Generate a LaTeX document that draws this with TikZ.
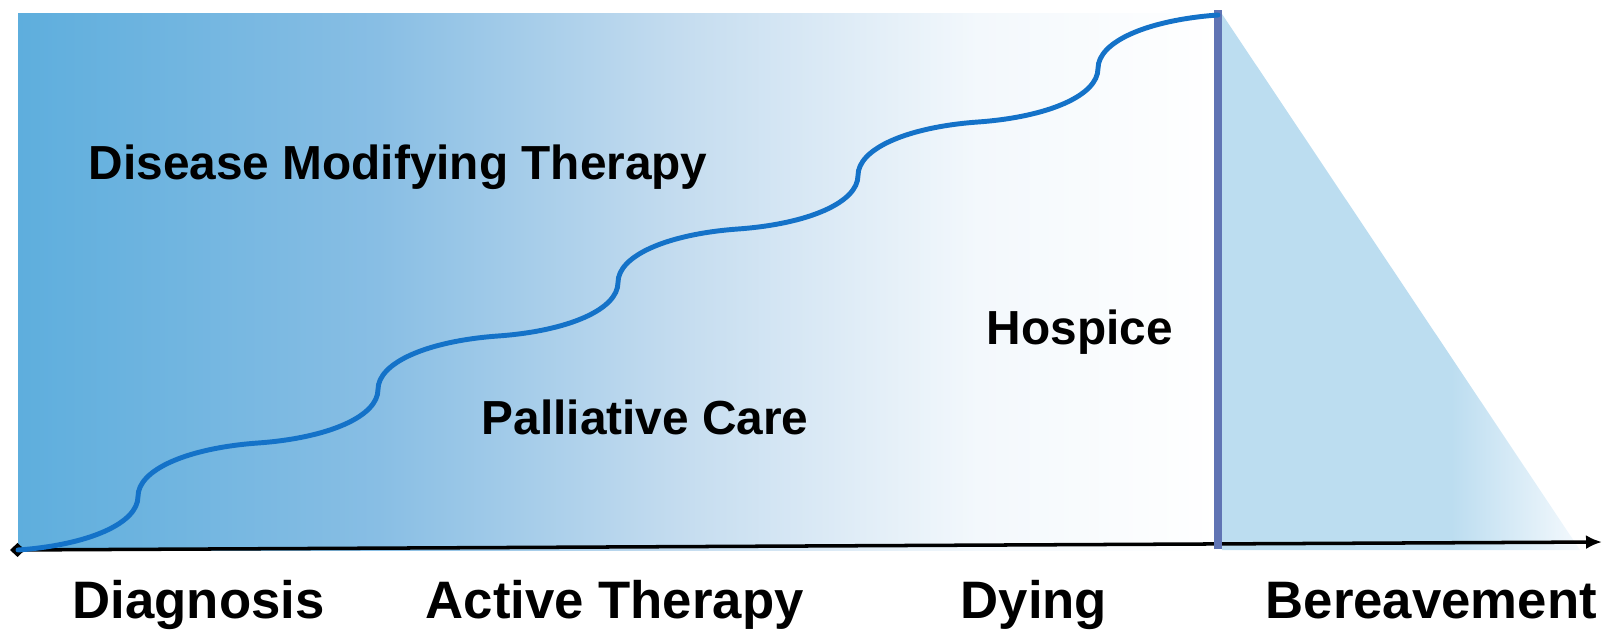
\documentclass[tikz,border=0pt]{standalone}
\usepackage{fontspec}
\setmainfont{Liberation Sans}
\usetikzlibrary{arrows.meta}

\definecolor{dmtblue}{RGB}{94,174,221}
\definecolor{dmtmid}{RGB}{136,190,228}
\definecolor{dmtpale}{RGB}{196,220,239}
\definecolor{dmtmist}{RGB}{243,248,252}
\definecolor{griefblue}{RGB}{188,221,240}
\definecolor{griefmist}{RGB}{244,249,253}
\definecolor{barblue}{RGB}{96,116,180}
\definecolor{curveblue}{RGB}{20,114,200}

% shadings: the path box maps onto 25bp..75bp
\pgfdeclarehorizontalshading{dmtfade}{100bp}{color(0bp)=(dmtblue); color(25bp)=(dmtblue); color(40bp)=(dmtmid); color(52.5bp)=(dmtpale); color(65bp)=(dmtmist); color(75bp)=(white); color(100bp)=(white)}
\pgfdeclarehorizontalshading{grieffade}{100bp}{color(0bp)=(griefblue); color(25bp)=(griefblue); color(57bp)=(griefblue); color(75bp)=(griefmist); color(100bp)=(griefmist)}

\tikzset{
  phase/.style={font=\fontsize{15}{18}\selectfont\bfseries, inner sep=0pt, anchor=base west},
  care/.style={font=\fontsize{13.6}{16}\selectfont\bfseries, inner sep=0pt, anchor=base west},
  riseline/.style={draw=curveblue, line width=1.4pt, line cap=round},
}

\begin{document}
\begin{tikzpicture}[x=0.1mm,y=0.1mm]
			\useasboundingbox (0,0) rectangle (1615,637);
			% background areas
			\shade[shading=dmtfade] (18,87) rectangle (1218,623);
			\shade[shading=grieffade] (1222,623) -- (1580,87) -- (1222,87) -- cycle;
			% time axis
			\coordinate (start) at (10,87);
			\coordinate (tip) at (1602,95);
			\draw[line width=1pt, {Diamond[length=1.5mm,width=1.4mm]}-{Latex[length=1.6mm,width=1.4mm]}] (start) -- (tip);
			% death
			\coordinate (deathlow) at (1218,88);
			\coordinate (deathtop) at (1218,627);
			\draw[draw=barblue, line width=0.85mm] (deathlow) -- (deathtop);
			% rising palliative care
			\draw[riseline] (18,87)
				.. controls +(70,5) and +(0,-27) .. ++(120,53.5) .. controls +(0,27) and +(-70,-5) .. ++(120,53.5)
				.. controls +(70,5) and +(0,-27) .. ++(120,53.5) .. controls +(0,27) and +(-70,-5) .. ++(120,53.5)
				.. controls +(70,5) and +(0,-27) .. ++(120,53.5) .. controls +(0,27) and +(-70,-5) .. ++(120,53.5)
				.. controls +(70,5) and +(0,-27) .. ++(120,53.5) .. controls +(0,27) and +(-70,-5) .. ++(120,53.5)
				.. controls +(70,5) and +(0,-27) .. ++(120,53.5) .. controls +(0,27) and +(-70,-5) .. ++(120,53.5);
			% care labels
			\node[care] (dmt) at (88,457) {Disease Modifying Therapy};
			\node[care] (palliative) at (481,203) {Palliative Care};
			\node[care] (hospice) at (986,292) {Hospice};
			% phase labels
			\node[phase] (diagnosis) at (72,19) {Diagnosis};
			\node[phase] (active) at (425,19) {Active Therapy};
			\node[phase] (dying) at (960,19) {Dying};
			\node[phase] (bereavement) at (1265,19) {Bereavement};
		\end{tikzpicture}
\end{document}
